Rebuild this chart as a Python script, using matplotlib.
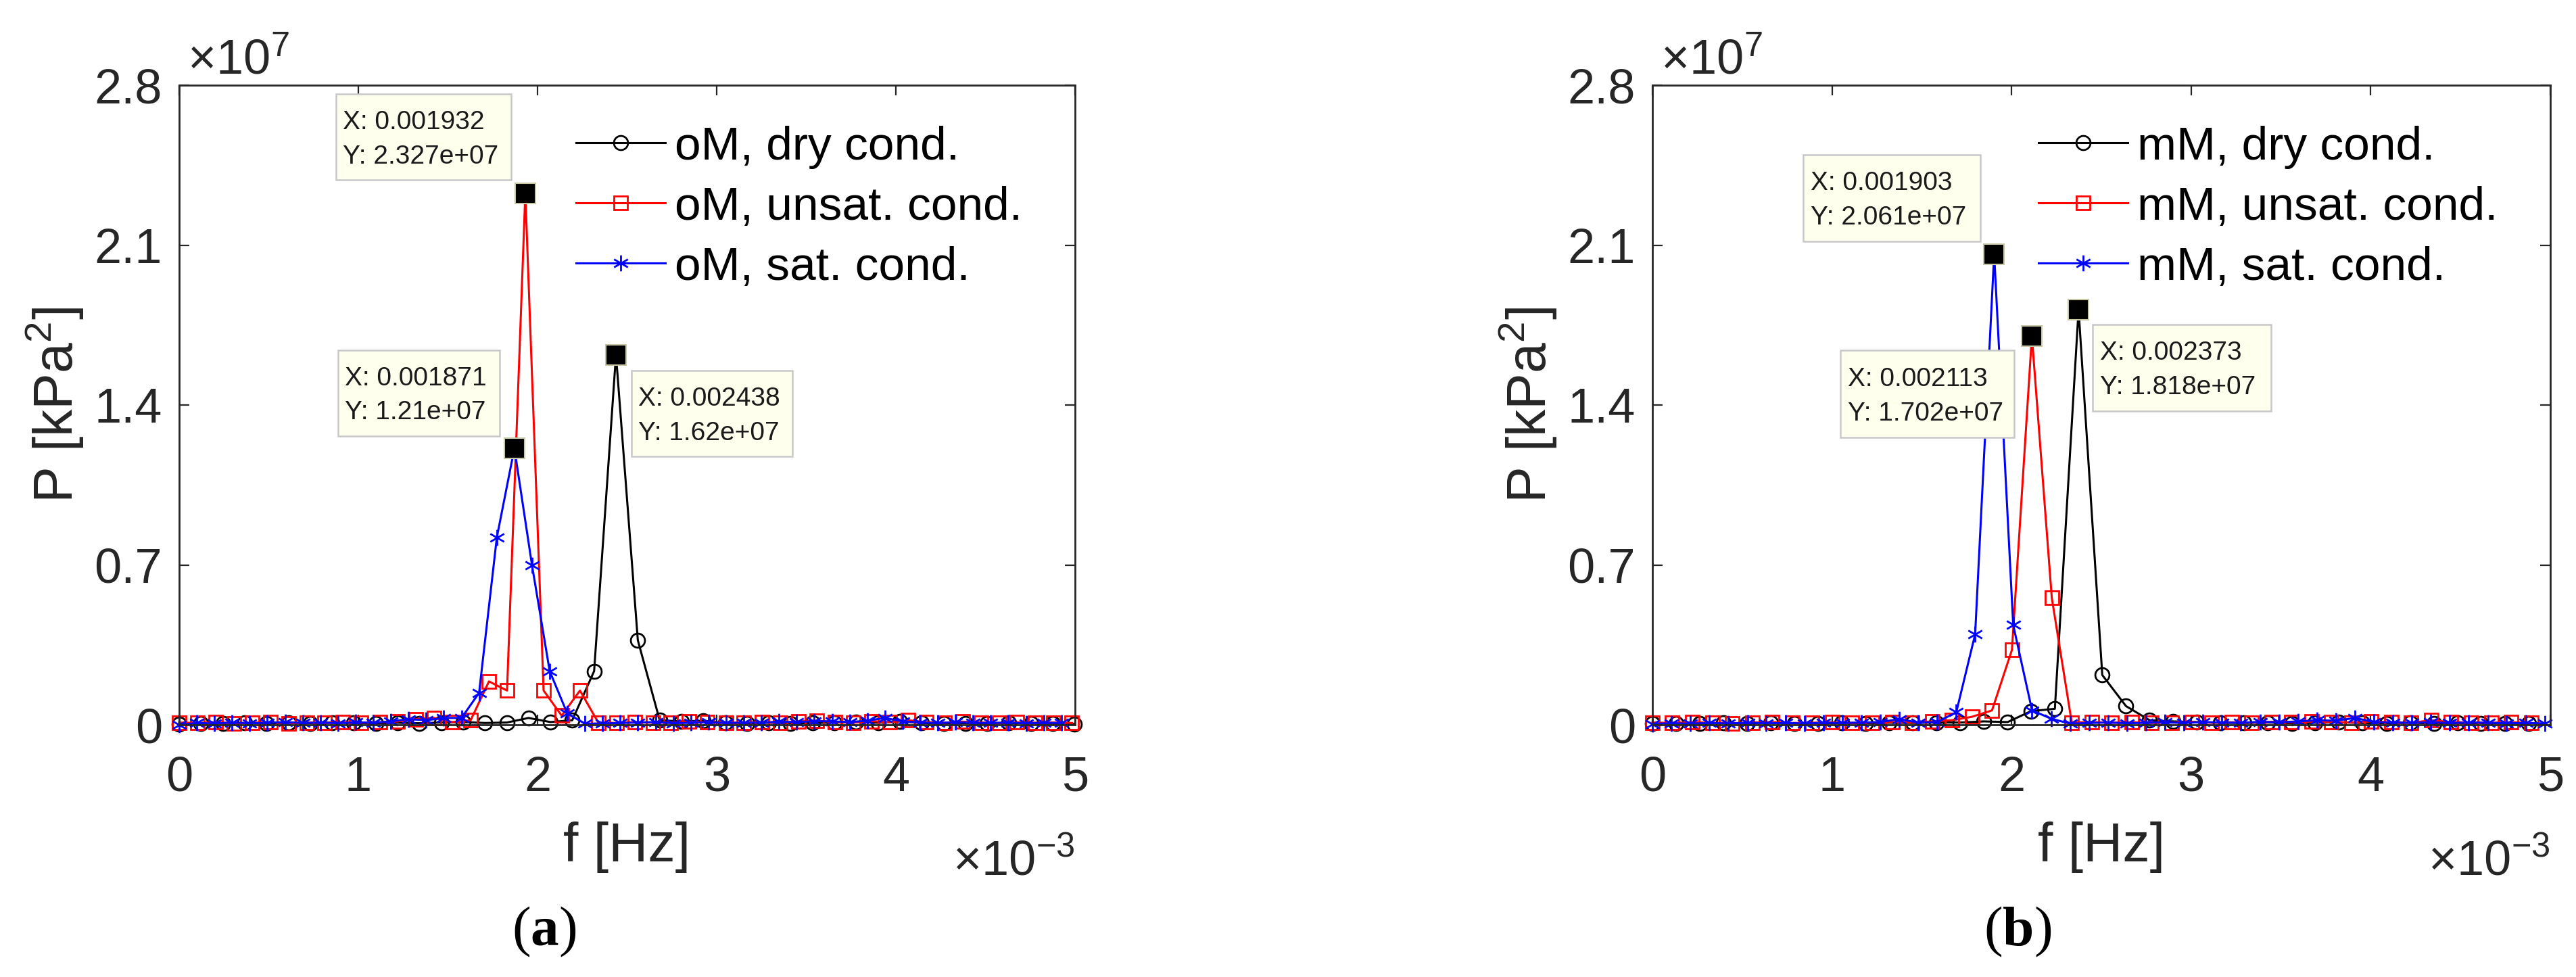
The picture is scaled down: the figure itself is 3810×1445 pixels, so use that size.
"""Power spectra of pore pressure, oM / mM cases, with MATLAB-style data tips."""
import numpy as np
import matplotlib
matplotlib.use('Agg')
import matplotlib.pyplot as plt
from matplotlib.patches import Rectangle
from matplotlib.path import Path
from matplotlib.ticker import FuncFormatter

plt.rcParams['font.family'] = ['Liberation Sans', 'DejaVu Sans']
plt.rcParams['mathtext.fontset'] = 'custom'
plt.rcParams['mathtext.rm'] = 'Liberation Sans'
plt.rcParams['mathtext.bf'] = 'Liberation Serif:bold'

# ── Data: frequency in 1e-3 Hz, power in 1e7 kPa^2 ─────────────────
F_OM_DRY = [0.000, 0.122, 0.244, 0.366, 0.488, 0.610, 0.731, 0.853, 0.975, 1.097,
            1.219, 1.341, 1.463, 1.585, 1.707, 1.829, 1.950, 2.072, 2.194, 2.316,
            2.438, 2.560, 2.682, 2.804, 2.926, 3.048, 3.169, 3.291, 3.413, 3.535,
            3.657, 3.779, 3.901, 4.023, 4.145, 4.267, 4.388, 4.510, 4.632, 4.754,
            4.876, 4.998]
P_OM_DRY = [0.004, 0.006, 0.005, 0.008, 0.006, 0.009, 0.007, 0.010, 0.008, 0.006,
            0.009, 0.007, 0.010, 0.012, 0.008, 0.010, 0.030, 0.012, 0.020, 0.235,
            1.620, 0.370, 0.020, 0.015, 0.018, 0.008, 0.006, 0.009, 0.007, 0.008,
            0.010, 0.012, 0.009, 0.015, 0.008, 0.006, 0.007, 0.005, 0.008, 0.006,
            0.005, 0.004]

F_OM_UNSAT = [0.000, 0.102, 0.203, 0.305, 0.407, 0.508, 0.610, 0.712, 0.813, 0.915,
              1.017, 1.119, 1.220, 1.322, 1.424, 1.525, 1.627, 1.729, 1.830, 1.932,
              2.034, 2.135, 2.237, 2.339, 2.440, 2.542, 2.644, 2.745, 2.847, 2.949,
              3.051, 3.152, 3.254, 3.356, 3.457, 3.559, 3.661, 3.762, 3.864, 3.966,
              4.067, 4.169, 4.271, 4.372, 4.474, 4.576, 4.677, 4.779, 4.881, 4.983]
P_OM_UNSAT = [0.010, 0.008, 0.012, 0.006, 0.009, 0.011, 0.007, 0.010, 0.008, 0.012,
              0.009, 0.011, 0.015, 0.025, 0.030, 0.012, 0.020, 0.190, 0.150, 2.327,
              0.150, 0.040, 0.150, 0.010, 0.008, 0.012, 0.009, 0.010, 0.014, 0.011,
              0.008, 0.010, 0.012, 0.009, 0.015, 0.018, 0.012, 0.010, 0.016, 0.011,
              0.020, 0.012, 0.009, 0.014, 0.010, 0.008, 0.011, 0.009, 0.010, 0.008]

F_OM_SAT = [0.000, 0.098, 0.197, 0.295, 0.394, 0.492, 0.591, 0.689, 0.788, 0.886,
            0.985, 1.083, 1.182, 1.280, 1.379, 1.477, 1.576, 1.674, 1.773, 1.871,
            1.969, 2.068, 2.166, 2.265, 2.363, 2.462, 2.560, 2.659, 2.757, 2.856,
            2.954, 3.053, 3.151, 3.250, 3.348, 3.447, 3.545, 3.644, 3.742, 3.840,
            3.939, 4.037, 4.136, 4.234, 4.333, 4.431, 4.530, 4.628, 4.727, 4.825,
            4.924]
P_OM_SAT = [0.000, 0.008, 0.006, 0.010, 0.007, 0.009, 0.012, 0.008, 0.010, 0.007,
            0.011, 0.009, 0.015, 0.025, 0.020, 0.030, 0.030, 0.140, 0.820, 1.210,
            0.700, 0.235, 0.050, 0.005, 0.006, 0.008, 0.010, 0.012, 0.007, 0.009,
            0.011, 0.008, 0.010, 0.009, 0.014, 0.012, 0.016, 0.015, 0.012, 0.018,
            0.030, 0.015, 0.010, 0.008, 0.011, 0.009, 0.008, 0.010, 0.007, 0.009,
            0.008]

F_MM_DRY = [0.000, 0.132, 0.264, 0.396, 0.527, 0.659, 0.791, 0.923, 1.055, 1.187,
            1.318, 1.450, 1.582, 1.714, 1.846, 1.978, 2.109, 2.241, 2.373, 2.505,
            2.637, 2.769, 2.900, 3.032, 3.164, 3.296, 3.428, 3.560, 3.691, 3.823,
            3.955, 4.087, 4.219, 4.351, 4.483, 4.614, 4.746, 4.878]
P_MM_DRY = [0.005, 0.007, 0.006, 0.008, 0.005, 0.009, 0.007, 0.006, 0.008, 0.007,
            0.009, 0.008, 0.010, 0.010, 0.015, 0.012, 0.060, 0.070, 1.818, 0.218,
            0.082, 0.020, 0.015, 0.012, 0.009, 0.008, 0.010, 0.007, 0.009, 0.011,
            0.008, 0.007, 0.009, 0.006, 0.008, 0.007, 0.006, 0.005]

F_MM_UNSAT = [0.000, 0.111, 0.222, 0.334, 0.445, 0.556, 0.667, 0.778, 0.890, 1.001,
              1.112, 1.223, 1.335, 1.446, 1.557, 1.668, 1.779, 1.891, 2.002, 2.113,
              2.224, 2.335, 2.447, 2.558, 2.669, 2.780, 2.891, 3.003, 3.114, 3.225,
              3.336, 3.448, 3.559, 3.670, 3.781, 3.892, 4.004, 4.115, 4.226, 4.337,
              4.448, 4.560, 4.671, 4.782, 4.893]
P_MM_UNSAT = [0.010, 0.008, 0.011, 0.009, 0.007, 0.010, 0.012, 0.008, 0.009, 0.011,
              0.008, 0.010, 0.012, 0.010, 0.015, 0.020, 0.035, 0.063, 0.328, 1.702,
              0.555, 0.010, 0.012, 0.009, 0.011, 0.008, 0.010, 0.012, 0.009, 0.011,
              0.010, 0.013, 0.011, 0.014, 0.012, 0.010, 0.015, 0.011, 0.009, 0.020,
              0.012, 0.010, 0.009, 0.011, 0.008]

F_MM_SAT = [0.000, 0.106, 0.211, 0.317, 0.423, 0.529, 0.634, 0.740, 0.846, 0.951,
            1.057, 1.163, 1.269, 1.374, 1.480, 1.586, 1.692, 1.797, 1.903, 2.009,
            2.114, 2.220, 2.326, 2.432, 2.537, 2.643, 2.749, 2.854, 2.960, 3.066,
            3.172, 3.277, 3.383, 3.489, 3.594, 3.700, 3.806, 3.912, 4.017, 4.123,
            4.229, 4.335, 4.440, 4.546, 4.652, 4.757, 4.863, 4.969]
P_MM_SAT = [0.004, 0.007, 0.005, 0.008, 0.006, 0.009, 0.007, 0.008, 0.006, 0.009,
            0.008, 0.010, 0.012, 0.025, 0.010, 0.012, 0.055, 0.396, 2.061, 0.437,
            0.063, 0.027, 0.005, 0.008, 0.010, 0.007, 0.009, 0.011, 0.008, 0.012,
            0.010, 0.009, 0.013, 0.011, 0.015, 0.020, 0.018, 0.030, 0.012, 0.010,
            0.009, 0.011, 0.008, 0.010, 0.009, 0.007, 0.008, 0.006]

LABELS_OM = ['oM, dry cond.', 'oM, unsat. cond.', 'oM, sat. cond.']
LABELS_MM = ['mM, dry cond.', 'mM, unsat. cond.', 'mM, sat. cond.']

# data tips (dry, unsat, sat)
TIP_X_OM = [0.002438, 0.001932, 0.001871]
TIP_Y_OM = [1.62e7, 2.327e7, 1.21e7]
TIP_X_MM = [0.002373, 0.002113, 0.001903]
TIP_Y_MM = [1.818e7, 1.702e7, 2.061e7]

# tip box placement (x0 [ms], y0 [1e7], w, h)
TIP_BOX_OM = [(2.524, 1.175, 0.898, 0.377), (0.874, 2.385, 0.978, 0.377),
              (0.886, 1.265, 0.903, 0.374)]
TIP_BOX_MM = [(2.451, 1.374, 0.993, 0.377), (1.047, 1.257, 0.966, 0.382),
              (0.841, 2.117, 0.984, 0.377)]

DARK = '#262626'
COLORS = ['#000000', '#ff0000', '#0000ff']
TIP_FACE, TIP_EDGE = '#ffffee', '#c8c8c8'

c30, s30 = 0.866, 0.5
ASTERISK = Path([(0, -1), (0, 1), (-c30, -s30), (c30, s30), (-c30, s30), (c30, -s30)],
                [Path.MOVETO, Path.LINETO] * 3)
MARKERS = ['o', 's', ASTERISK]
MSIZES = [15, 15, 17]

X_SCALE, Y_SCALE = 1e-3, 1e7


def add_tip(ax, x, y, box):
    x0, y0, w, h = box
    ax.add_patch(Rectangle((x0 * X_SCALE, y0 * Y_SCALE), w * X_SCALE, h * Y_SCALE,
                           facecolor=TIP_FACE, edgecolor=TIP_EDGE, linewidth=1.8,
                           zorder=5, clip_on=False))
    tx = (x0 + 0.04) * X_SCALE
    ax.text(tx, (y0 + 0.67 * h) * Y_SCALE, f'X: {x:.4g}', fontsize=28, color='#1a1a1a',
            va='center', ha='left', zorder=6)
    ax.text(tx, (y0 + 0.27 * h) * Y_SCALE, f'Y: {y:.4g}', fontsize=28, color='#1a1a1a',
            va='center', ha='left', zorder=6)
    ax.plot(x, y, 's', ms=21, mfc='black', mec='#c8c8a8', mew=1.5, zorder=7,
            clip_on=False)


def draw_panel(ax, freqs, powers, labels, tip_x, tip_y, boxes, leg_x):
    for f, p, lab, col, mk, ms in zip(freqs, powers, labels, COLORS, MARKERS, MSIZES):
        ax.plot(np.array(f) * X_SCALE, np.array(p) * Y_SCALE, '-', color=col, lw=2.2,
                marker=mk, ms=ms, mfc='none', mec=col, mew=2.0, clip_on=False,
                label=lab)

    ax.set_xlim(0, 5 * X_SCALE)
    ax.set_ylim(0, 2.8 * Y_SCALE)
    ax.set_xticks(np.arange(0, 6) * X_SCALE)
    ax.set_yticks(np.array([0, 0.7, 1.4, 2.1, 2.8]) * Y_SCALE)
    ax.xaxis.set_major_formatter(FuncFormatter(lambda v, _: f'{round(v / X_SCALE, 3):g}'))
    ax.yaxis.set_major_formatter(FuncFormatter(lambda v, _: f'{round(v / Y_SCALE, 3):g}'))
    ax.tick_params(direction='in', length=11, width=1.6, top=True, right=True,
                   labelsize=52, colors=DARK)
    ax.tick_params(axis='x', pad=33)
    ax.tick_params(axis='y', pad=18)
    for sp in ax.spines.values():
        sp.set_linewidth(2.0)
        sp.set_color(DARK)

    ax.set_xlabel('f [Hz]', fontsize=58, color=DARK)
    ax.xaxis.set_label_coords(0.5, -0.151)
    ax.set_ylabel(r'P [kPa$\mathregular{^{2}}$]', fontsize=58, color=DARK)
    ax.yaxis.set_label_coords(-0.105, 0.5)

    ax.text(0.009, 1.017, r'$\mathregular{\times10^{7}}$', transform=ax.transAxes,
            fontsize=52, color=DARK, ha='left', va='baseline')
    ax.text(1.0, -0.234, r'$\mathregular{\times10^{-3}}$', transform=ax.transAxes,
            fontsize=52, color=DARK, ha='right', va='baseline')

    ax.legend(loc='upper left', bbox_to_anchor=(leg_x, 0.937), frameon=False,
              fontsize=50, handlelength=1.9, handletextpad=0.2, labelspacing=0.36,
              borderpad=0, borderaxespad=0)

    for x, y, box in zip(tip_x, tip_y, boxes):
        add_tip(ax, x, y, box)


def main():
    fig = plt.figure(figsize=(38.1, 14.45), dpi=100)
    ax1 = fig.add_axes([0.06955, 0.25813, 0.34777, 0.65467])
    ax2 = fig.add_axes([0.64147, 0.25813, 0.34856, 0.65467])

    draw_panel(ax1, [F_OM_DRY, F_OM_UNSAT, F_OM_SAT], [P_OM_DRY, P_OM_UNSAT, P_OM_SAT],
               LABELS_OM, TIP_X_OM, TIP_Y_OM, TIP_BOX_OM, 0.443)
    draw_panel(ax2, [F_MM_DRY, F_MM_UNSAT, F_MM_SAT], [P_MM_DRY, P_MM_UNSAT, P_MM_SAT],
               LABELS_MM, TIP_X_MM, TIP_Y_MM, TIP_BOX_MM, 0.430)

    fig.text(0.2113, 0.0464, r'($\mathbf{a}$)', fontfamily='Liberation Serif',
             fontsize=60, ha='center', va='center')
    fig.text(0.7832, 0.0464, r'($\mathbf{b}$)', fontfamily='Liberation Serif',
             fontsize=60, ha='center', va='center')

    fig.savefig('out.png', dpi=100, facecolor='white')


if __name__ == '__main__':
    main()
